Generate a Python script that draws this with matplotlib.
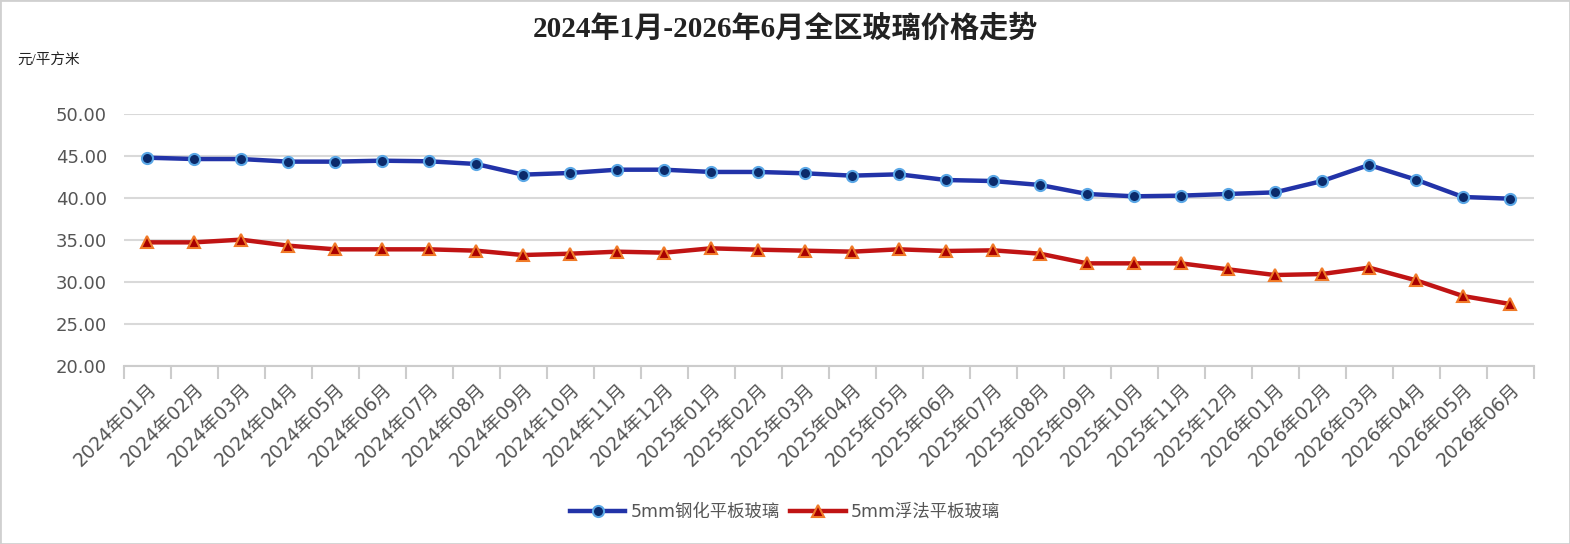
import matplotlib
matplotlib.use('Agg')
import matplotlib.pyplot as plt
from matplotlib.ticker import FixedLocator, MultipleLocator, FormatStrFormatter, NullFormatter
import numpy as np

# category labels (monthly)
months = [f"{y}年{m:02d}月" for y in (2024, 2025) for m in range(1, 13)] + \
         [f"2026年{m:02d}月" for m in range(1, 7)]

tempered = [44.80, 44.64, 44.64, 44.33, 44.33, 44.44, 44.37, 44.05, 42.78, 42.98,
            43.37, 43.37, 43.10, 43.10, 42.94, 42.66, 42.82, 42.14, 42.02, 41.55,
            40.48, 40.20, 40.28, 40.48, 40.67, 42.02, 43.93, 42.18, 40.12, 39.92]
float_glass = [34.72, 34.72, 35.04, 34.33, 33.89, 33.89, 33.89, 33.73, 33.21, 33.37,
               33.61, 33.49, 34.01, 33.85, 33.73, 33.61, 33.89, 33.69, 33.77, 33.37,
               32.22, 32.22, 32.22, 31.51, 30.83, 30.95, 31.71, 30.20, 28.33, 27.38]

series_names = ['5mm钢化平板玻璃', '5mm浮法平板玻璃']
title = '2024年1月-2026年6月全区玻璃价格走势'
unit = '元/平方米'

SANS = ['DejaVu Sans', 'Noto Sans CJK SC']
plt.rcParams['font.family'] = SANS

W, H = 1570, 544
fig = plt.figure(figsize=(W / 100, H / 100), dpi=100)
fig.patch.set_facecolor('white')
ax = fig.add_axes([123.5 / W, 1 - 366 / H, 1410 / W, 252 / H])

x = np.arange(len(months))
ax.plot(x, tempered, color='#2233a8', lw=3.2, marker='o', ms=8,
        mfc='#0b2a6a', mec='#5aa7e6', mew=1.5, label=series_names[0], zorder=3)
ax.plot(x, float_glass, color='#c01414', lw=3.2, marker='^', ms=9,
        mfc='#a80000', mec='#f07a28', mew=1.5, label=series_names[1], zorder=3)

ax.set_xlim(-0.5, len(months) - 0.5)
ax.set_ylim(20, 50)
ax.yaxis.set_major_locator(MultipleLocator(5))
ax.yaxis.set_major_formatter(FormatStrFormatter('%.2f'))
ax.grid(axis='y', color='#d9d9d9', lw=1.5)
ax.set_axisbelow(True)

for s in ('top', 'right', 'left'):
    ax.spines[s].set_visible(False)
ax.spines['bottom'].set_color('#cccccc')
ax.spines['bottom'].set_linewidth(1.5)

ax.tick_params(axis='y', length=0, pad=12, labelsize=13, labelcolor='#555555')
ax.xaxis.set_major_locator(FixedLocator(np.arange(-0.5, len(months), 1)))
ax.xaxis.set_major_formatter(NullFormatter())
ax.xaxis.set_minor_locator(FixedLocator(x))
ax.set_xticks(x, months, minor=True)
ax.tick_params(axis='x', which='major', length=9, width=1.5, color='#cccccc')
ax.tick_params(axis='x', which='minor', length=0, pad=10, labelsize=13.5,
               labelcolor='#555555')
for lbl in ax.get_xticklabels(minor=True):
    lbl.set_rotation(45)
    lbl.set_ha('right')
    lbl.set_rotation_mode('anchor')

fig.text(0.5, 1 - 28 / H, title, ha='center', va='center', fontsize=21,
         fontweight='bold', color='#222222',
         family=['Liberation Serif', 'Noto Sans CJK SC'])
fig.text(17 / W, 1 - 60 / H, unit, ha='left', va='center', fontsize=10.5,
         color='#222222', family=['Liberation Serif', 'Noto Sans CJK SC'])

fig.legend(loc='center', bbox_to_anchor=(0.5, 1 - 512 / H), ncol=2, frameon=False,
           fontsize=12.5, labelcolor='#555555', handlelength=3.2,
           handletextpad=0.3, columnspacing=0.6)

# light frame around the figure
fig.add_artist(plt.Rectangle((0, 0), 1, 1, transform=fig.transFigure, fill=False,
                             ec='#d0d0d0', lw=2))

fig.savefig('out.png', dpi=100, facecolor='white')
